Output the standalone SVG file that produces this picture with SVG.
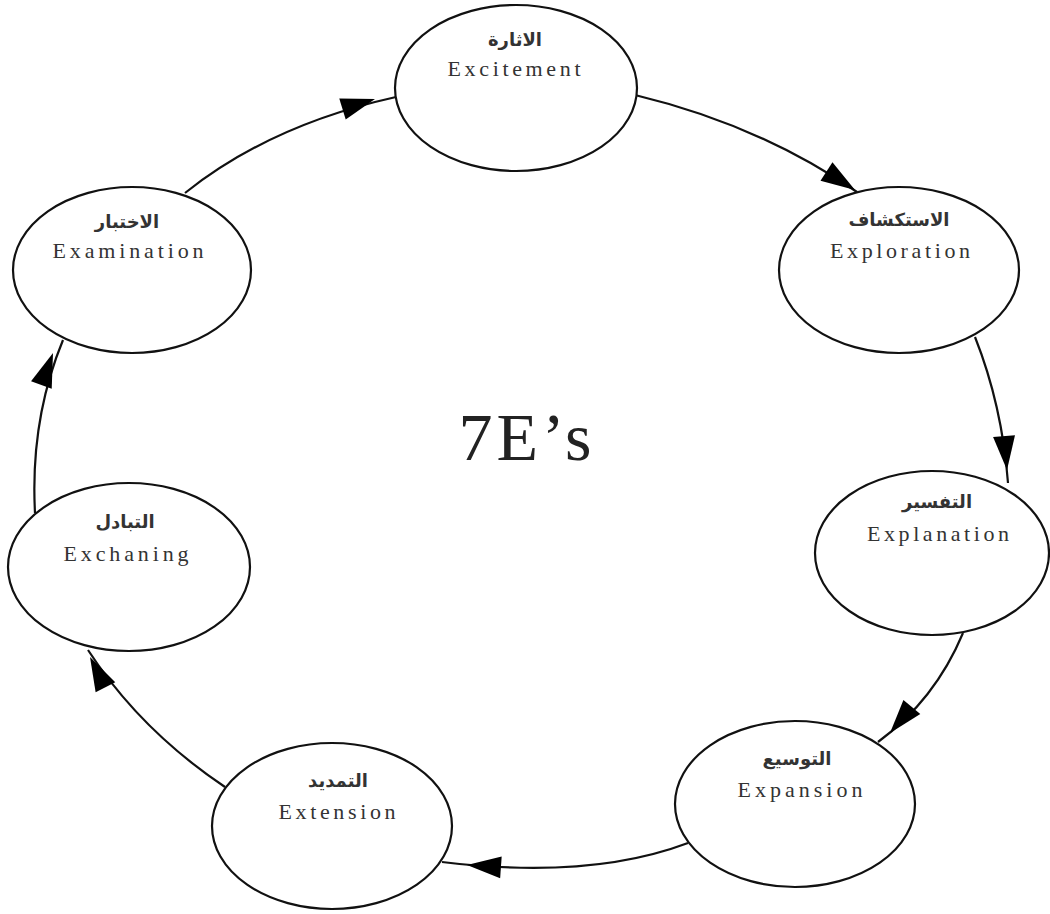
<svg xmlns="http://www.w3.org/2000/svg" width="1050" height="914" viewBox="0 0 1050 914">
<style>
.node ellipse{fill:#fff;stroke:#111;stroke-width:2.2}
.ar{font-family:"DejaVu Sans",sans-serif;font-size:18px;font-weight:bold;fill:#333;text-anchor:middle}
.en{font-family:"Liberation Serif",serif;font-size:22px;fill:#333;text-anchor:middle}
.conn path{fill:none;stroke:#111;stroke-width:2.2}
.conn use{fill:#000}
</style>
<defs>
<path id="ah" d="M0,0 L-34,-11 L-34,11 Z"/>
</defs>
<rect width="1050" height="914" fill="#fff"/>
<g id="connectors" class="conn">
<path d="M185,193 Q270,125 396,97"/>
<use href="#ah" transform="translate(375,99) rotate(-17)"/>
<path d="M635,95 Q760,125 857,192"/>
<use href="#ah" transform="translate(855,190) rotate(33)"/>
<path d="M975,337 Q1002,405 1008,483"/>
<use href="#ah" transform="translate(1007,470) rotate(85)"/>
<path d="M963,633 Q935,700 878,742"/>
<use href="#ah" transform="translate(890,733) rotate(130)"/>
<path d="M688,843 Q590,880 442,862"/>
<use href="#ah" transform="translate(467,865) rotate(184)"/>
<path d="M225,787 Q140,730 88,650"/>
<use href="#ah" transform="translate(90,657) rotate(243)"/>
<path d="M35,513 Q30,420 63,340"/>
<use href="#ah" transform="translate(53,353) rotate(290)"/>
</g>
<g id="excitement" class="node">
<ellipse cx="516" cy="88" rx="121" ry="83"/>
<text class="ar" x="515" y="46">الاثارة</text>
<text class="en" x="514" y="76" textLength="133" lengthAdjust="spacing">Excitement</text>
</g>
<g id="exploration" class="node">
<ellipse cx="899" cy="270" rx="120" ry="83"/>
<text class="ar" x="899" y="226">الاستكشاف</text>
<text class="en" x="900" y="258" textLength="140" lengthAdjust="spacing">Exploration</text>
</g>
<g id="examination" class="node">
<ellipse cx="132" cy="270" rx="119" ry="83"/>
<text class="ar" x="127" y="228">الاختبار</text>
<text class="en" x="128" y="258" textLength="151" lengthAdjust="spacing">Examination</text>
</g>
<g id="explanation" class="node">
<ellipse cx="932" cy="553" rx="117" ry="82"/>
<text class="ar" x="937" y="508">التفسير</text>
<text class="en" x="938" y="541" textLength="142" lengthAdjust="spacing">Explanation</text>
</g>
<g id="exchaning" class="node">
<ellipse cx="129" cy="567" rx="121" ry="84"/>
<text class="ar" x="125" y="528">التبادل</text>
<text class="en" x="126" y="561" textLength="125" lengthAdjust="spacing">Exchaning</text>
</g>
<g id="expansion" class="node">
<ellipse cx="795" cy="804" rx="120" ry="83"/>
<text class="ar" x="797" y="765">التوسيع</text>
<text class="en" x="800" y="797" textLength="125" lengthAdjust="spacing">Expansion</text>
</g>
<g id="extension" class="node">
<ellipse cx="332" cy="826" rx="120" ry="83"/>
<text class="ar" x="338" y="787">التمديد</text>
<text class="en" x="337" y="819" textLength="117" lengthAdjust="spacing">Extension</text>
</g>
<text x="527" y="460" font-family="Liberation Serif,serif" font-size="68" fill="#222" text-anchor="middle" letter-spacing="4">7E’s</text>
</svg>
